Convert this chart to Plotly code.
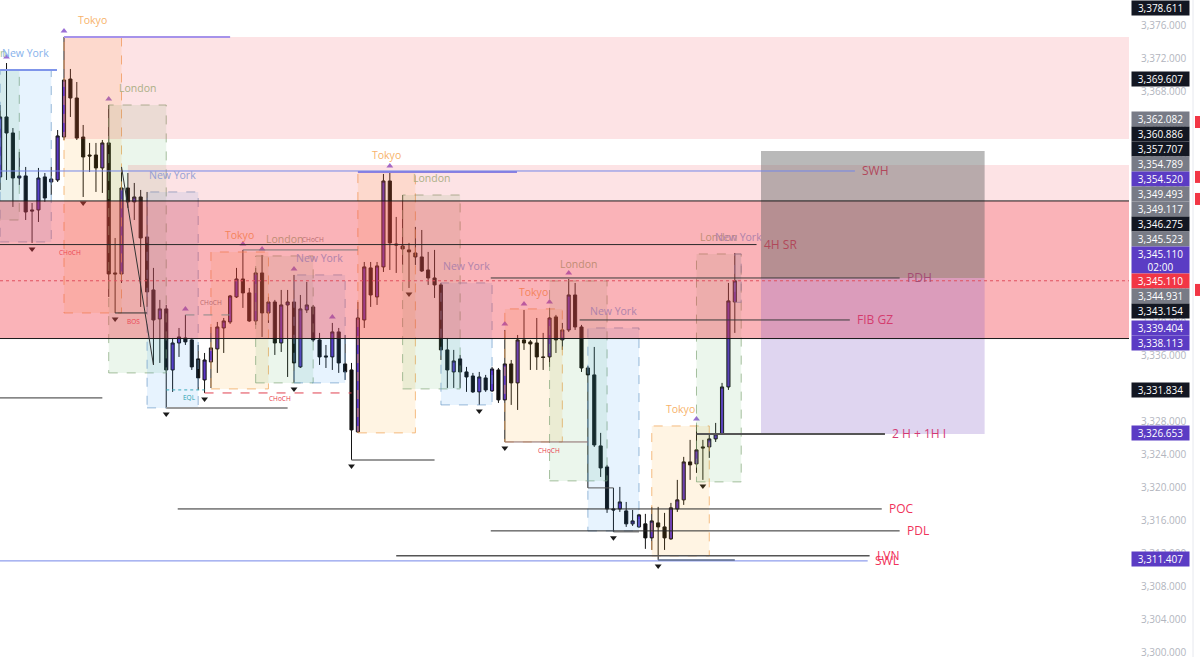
import plotly.graph_objects as go

# 1h candles, bar index 0..115 (last bar is the live one)
opens = [3357.70, 3364.97, 3363.03, 3357.57, 3357.82, 3353.70, 3353.70, 3357.70, 3357.09, 3357.33,
         3362.54, 3369.57, 3367.27, 3362.54, 3360.36, 3360.36, 3358.79, 3361.82, 3346.06, 3345.94,
         3356.36, 3354.67, 3355.27, 3350.42, 3344.00, 3340.48, 3341.70, 3334.30, 3337.57, 3338.18,
         3337.94, 3335.64, 3333.09, 3335.27, 3336.85, 3339.39, 3340.12, 3343.15, 3345.33, 3343.64,
         3340.24, 3346.06, 3341.21, 3342.54, 3337.57, 3342.18, 3342.54, 3334.67, 3341.57, 3341.94,
         3337.94, 3336.00, 3335.88, 3338.91, 3335.03, 3334.30, 3326.79, 3340.36, 3346.67, 3343.15,
         3346.79, 3357.21, 3349.57, 3349.33, 3348.85, 3348.48, 3348.00, 3346.42, 3345.45, 3344.61,
         3336.73, 3334.06, 3335.64, 3334.06, 3333.57, 3331.64, 3333.33, 3331.76, 3334.30, 3330.67,
         3335.03, 3332.73, 3337.94, 3337.70, 3337.57, 3335.88, 3335.88, 3340.73, 3337.94, 3339.15,
         3343.39, 3339.51, 3334.54, 3333.70, 3325.09, 3322.54, 3317.45, 3317.45, 3317.21, 3315.64,
         3315.27, 3315.64, 3313.94, 3315.76, 3315.27, 3313.82, 3317.45, 3318.55, 3323.15, 3322.91,
         3324.97, 3324.97, 3325.94, 3326.55, 3332.24, 3342.54]
highs = [3366.42, 3371.51, 3363.63, 3360.73, 3358.91, 3354.54, 3358.79, 3358.18, 3358.91, 3363.39,
         3374.67, 3370.79, 3369.21, 3364.00, 3361.82, 3361.82, 3362.18, 3366.42, 3350.30, 3358.91,
         3358.18, 3356.97, 3356.12, 3355.88, 3346.67, 3342.79, 3342.18, 3338.18, 3339.39, 3340.97,
         3338.18, 3337.33, 3336.36, 3339.51, 3340.12, 3340.60, 3343.39, 3346.67, 3348.85, 3344.24,
         3346.67, 3348.24, 3343.15, 3342.79, 3344.00, 3344.00, 3345.82, 3343.39, 3344.97, 3342.18,
         3338.79, 3337.33, 3340.00, 3339.39, 3338.54, 3335.15, 3342.54, 3347.39, 3347.39, 3347.39,
         3358.06, 3358.30, 3352.85, 3355.51, 3349.70, 3351.64, 3351.27, 3348.61, 3348.85, 3344.85,
         3338.18, 3336.73, 3336.12, 3334.67, 3333.94, 3334.06, 3333.70, 3334.67, 3334.54, 3339.15,
         3335.51, 3338.54, 3341.57, 3337.94, 3340.60, 3338.79, 3341.82, 3340.97, 3340.00, 3345.33,
         3344.85, 3339.76, 3334.79, 3337.09, 3326.67, 3322.79, 3320.00, 3320.12, 3318.30, 3317.33,
         3316.85, 3316.85, 3317.70, 3317.70, 3316.97, 3318.18, 3320.97, 3323.76, 3325.82, 3327.64,
         3325.82, 3326.42, 3327.88, 3332.73, 3344.85, 3348.48]
lows = [3356.12, 3357.33, 3354.06, 3356.73, 3352.48, 3349.70, 3352.24, 3354.67, 3355.51, 3357.09,
        3362.18, 3364.97, 3362.18, 3355.27, 3358.30, 3355.88, 3355.76, 3343.15, 3341.21, 3344.85,
        3353.94, 3352.48, 3341.94, 3341.94, 3334.91, 3335.15, 3329.70, 3331.64, 3335.88, 3337.33,
        3334.30, 3331.88, 3331.51, 3332.12, 3333.94, 3336.36, 3339.88, 3343.03, 3341.82, 3340.12,
        3339.76, 3338.30, 3340.00, 3336.12, 3336.48, 3333.45, 3332.73, 3334.54, 3341.21, 3337.70,
        3334.91, 3334.54, 3334.30, 3333.94, 3333.09, 3323.39, 3326.67, 3339.39, 3341.94, 3342.18,
        3346.18, 3346.42, 3346.06, 3347.03, 3344.24, 3347.03, 3346.18, 3344.61, 3343.03, 3335.51,
        3332.12, 3332.12, 3332.12, 3331.64, 3331.51, 3330.06, 3331.64, 3331.64, 3330.30, 3325.57,
        3330.06, 3329.45, 3336.73, 3334.30, 3334.30, 3334.30, 3334.67, 3336.36, 3336.73, 3338.91,
        3339.15, 3334.06, 3320.00, 3324.97, 3321.33, 3316.97, 3314.67, 3317.09, 3315.27, 3315.39,
        3315.15, 3312.61, 3312.48, 3311.27, 3312.48, 3313.70, 3317.09, 3317.94, 3320.97, 3321.82,
        3320.97, 3323.64, 3325.57, 3326.42, 3331.88, 3338.79]
closes = [3364.97, 3363.03, 3357.57, 3357.82, 3353.45, 3353.57, 3357.57, 3355.15, 3357.45, 3362.67,
          3369.45, 3367.27, 3362.42, 3360.12, 3360.24, 3358.79, 3361.82, 3345.94, 3345.94, 3356.36,
          3354.67, 3355.27, 3350.30, 3343.76, 3340.36, 3341.70, 3334.30, 3337.57, 3338.30, 3337.70,
          3334.67, 3333.33, 3335.51, 3336.97, 3339.51, 3340.24, 3343.27, 3345.33, 3343.64, 3340.24,
          3346.06, 3341.21, 3342.54, 3337.57, 3342.18, 3342.54, 3335.15, 3341.70, 3342.18, 3337.94,
          3335.88, 3335.88, 3338.91, 3335.15, 3334.06, 3327.03, 3340.60, 3346.79, 3343.39, 3346.91,
          3357.21, 3349.70, 3349.45, 3348.97, 3348.61, 3348.00, 3346.30, 3345.45, 3344.61, 3336.73,
          3334.30, 3335.39, 3334.06, 3333.45, 3331.64, 3333.45, 3331.88, 3334.42, 3330.67, 3335.03,
          3332.73, 3337.94, 3337.57, 3337.45, 3335.88, 3335.82, 3340.60, 3337.94, 3339.15, 3343.39,
          3339.51, 3334.54, 3333.70, 3325.21, 3322.42, 3317.45, 3317.33, 3318.30, 3315.64, 3316.00,
          3316.73, 3313.94, 3316.00, 3315.27, 3313.94, 3317.58, 3318.55, 3323.15, 3322.79, 3324.61,
          3324.85, 3325.94, 3326.55, 3332.24, 3342.67, 3345.11]

# sessions: name, first bar, last bar, session high, session low
session_names = ["London", "New York", "Tokyo", "London", "New York", "Tokyo", "London", "New York",
                 "Tokyo", "London", "New York", "Tokyo", "London", "New York", "Tokyo", "London", "New York"]
session_start = [-7, 0, 10, 17, 23, 33, 40, 46, 56, 63, 69, 79, 86, 92, 102, 109, 115]
session_end = [3, 8, 19, 26, 31, 42, 49, 54, 65, 72, 77, 88, 95, 100, 111, 116, 116]
session_high = [3370.67, 3370.67, 3374.67, 3366.42, 3355.88, 3348.60, 3348.12, 3345.82, 3358.30,
                3355.51, 3344.85, 3341.70, 3345.09, 3339.39, 3327.51, 3348.36, 3348.36]
session_low = [3352.48, 3349.82, 3341.21, 3333.94, 3329.70, 3332.00, 3332.73, 3332.73, 3326.67,
               3332.00, 3330.06, 3325.57, 3320.85, 3314.78, 3311.76, 3320.73, 3342.50]

swing_high_idx = [1, 10, 17, 29, 38, 41, 46, 52, 61, 79, 82, 86, 89, 109]
swing_low_idx = [5, 13, 18, 26, 32, 46, 55, 64, 75, 79, 96, 103, 110]

# key levels: label, price, from bar, to bar
level_names = ["SWH", "4H SR", "PDH", "FIB GZ", "2 H + 1H I", "POC", "PDL", "LVN", "SWL"]
level_prices = [3358.42, 3349.50, 3345.45, 3340.36, 3326.55, 3317.45, 3314.79, 3311.76, 3311.15]
level_start = [-1, -1, 76.8, 90.7, 109, 27.8, 76.8, 62.0, -1]
level_end = [133.8, 118.4, 140.8, 133.0, 138.5, 138.0, 140.8, 136.1, 135.8]

# zones
supply_top = [3374.67, 3362.30]
supply_mid = [3359.15, 3354.79]
supply_main = [3354.79, 3338.11]
proj_gray = [3360.85, 3345.45]
proj_violet = [3345.45, 3326.55]
proj_bars = [119.1, 154.1]
current_price = 3345.11

# structure labels
struct_text = ["CHoCH", "BOS", "CHoCH", "EQL", "CHoCH", "CHoCH", "CHoCH"]
struct_bar = [11, 20.8, 33, 29.7, 43.8, 49, 85.9]
struct_price = [3348.48, 3340.12, 3342.42, 3330.90, 3330.78, 3350.06, 3324.48]
struct_color = [(232, 80, 90), (232, 80, 90), (150, 140, 140), (40, 160, 175), (232, 60, 75), (150, 140, 140), (232, 60, 75)]

# price scale labels
axis_prices = [3378.611, 3369.607, 3362.082, 3360.886, 3357.707, 3354.789, 3354.520, 3349.493, 3349.117,
               3346.275, 3345.523, 3345.110, 3345.110, 3344.931, 3343.154, 3339.404, 3338.113,
               3331.834, 3326.653, 3311.407]
axis_kinds = ["black", "black", "gray", "black", "black", "gray", "purple", "gray", "gray",
              "black", "gray", "purple", "red", "gray", "black", "purple", "purple",
              "black", "purple", "purple"]
axis_sub = ["", "", "", "", "", "", "", "", "", "", "", "02:00", "", "", "", "", "", "", "", ""]

x_min, x_max = -0.02, 176.7
y_min, y_max = 3299.5, 3379.15
fig_w, fig_h = 1200, 657
plot_w = 1129
px_per_unit = fig_h / (y_max - y_min)


def px(i):
    return (i - x_min) / (x_max - x_min)


zones = [
    (10, 999, supply_top[0], supply_top[1], (242, 54, 69), 0.14),
    (20, 999, supply_mid[0], supply_mid[1], (242, 54, 69), 0.14),
    (-99, 999, supply_main[0], supply_main[1], (242, 54, 69), 0.38),
    (proj_bars[0], proj_bars[1], proj_gray[0], proj_gray[1], (100, 100, 100), 0.45),
    (proj_bars[0], proj_bars[1], proj_violet[0], proj_violet[1], (126, 87, 194), 0.25),
]


def tint(rgb, i, p):
    r, g, b = rgb
    for x0, x1, top, bot, zc, a in zones:
        if x0 <= i <= x1 and bot <= p <= top:
            r = r * (1 - a) + zc[0] * a
            g = g * (1 - a) + zc[1] * a
            b = b * (1 - a) + zc[2] * a
    return "rgb(%d,%d,%d)" % (r, g, b)


idx = list(range(len(opens)))
fig = go.Figure()
fig.add_trace(go.Candlestick(
    x=idx, open=opens, high=highs, low=lows, close=closes,
    increasing=dict(fillcolor="#5b35c6", line=dict(color="#141414", width=1)),
    decreasing=dict(fillcolor="#0d0d0d", line=dict(color="#141414", width=1)),
    whiskerwidth=0, showlegend=False, hoverinfo="skip"))

off = 6 / px_per_unit
fig.add_trace(go.Scatter(
    x=swing_high_idx, y=[highs[i] + off for i in swing_high_idx], mode="markers",
    marker=dict(symbol="triangle-up", size=6, color="#9a6fd6"), showlegend=False, hoverinfo="skip"))
fig.add_trace(go.Scatter(
    x=swing_low_idx, y=[lows[i] - off for i in swing_low_idx], mode="markers",
    marker=dict(symbol="triangle-down", size=6, color="#1a1a1a"), showlegend=False, hoverinfo="skip"))

shapes = []
annotations = []

sess_style = {
    "Tokyo": ("rgba(255,152,0,0.11)", "rgba(240,165,90,0.75)", (247, 179, 107)),
    "London": ("rgba(76,175,80,0.11)", "rgba(130,165,120,0.7)", (160, 195, 145)),
    "New York": ("rgba(33,150,243,0.11)", "rgba(110,155,200,0.7)", (135, 178, 235)),
}
for k, name in enumerate(session_names):
    fill, border, lab = sess_style[name]
    shapes.append(dict(type="rect", xref="x", yref="y", layer="above",
                       x0=session_start[k], x1=session_end[k], y0=session_low[k], y1=session_high[k],
                       fillcolor=fill, line=dict(color=border, width=1, dash="dash")))
    cx = (session_start[k] + session_end[k]) / 2
    ly = session_high[k] + 17 / px_per_unit
    annotations.append(dict(xref="paper", yref="y", x=px(cx), y=ly, text=name, showarrow=False,
                            xanchor="center", yanchor="middle",
                            font=dict(family="Open Sans", size=10.5, color=tint(lab, cx, ly))))

for x0, x1, top, bot, zc, a in zones:
    shapes.append(dict(type="rect", xref="x", yref="y", layer="above", x0=x0, x1=x1, y0=bot, y1=top,
                       fillcolor="rgba(%d,%d,%d,%.2f)" % (zc + (a,)), line=dict(width=0)))

# full-width lines
for p in [supply_main[0], supply_main[1]]:
    shapes.append(dict(type="line", xref="paper", yref="y", layer="above", x0=0, x1=1, y0=p, y1=p,
                       line=dict(color="#1a1a1a", width=1)))
shapes.append(dict(type="line", xref="paper", yref="y", layer="above", x0=0, x1=1,
                   y0=current_price, y1=current_price, line=dict(color="#e0505e", width=1, dash="dot")))

# session-high rays
ray_start = [0, 10, 56]
ray_end = [8.9, 36, 80.9]
ray_price = [3370.67, 3374.67, 3358.30]
ray_color = ["#7f95ea", "#a692ea", "#8c7fe0"]
for k in range(len(ray_start)):
    shapes.append(dict(type="line", xref="x", yref="y", layer="above", x0=ray_start[k], x1=ray_end[k],
                       y0=ray_price[k], y1=ray_price[k], line=dict(color=ray_color[k], width=2)))

# key level lines with labels
level_color = ["#7386e8", "#2a2a2a", "#3a3a3a", "#3a3a3a", "#555555", "#2a2a2a", "#2a2a2a", "#555555", "#7386e8"]
level_width = [1, 1, 1, 1, 2, 1, 1, 1.5, 1]
for k, name in enumerate(level_names):
    p = level_prices[k]
    shapes.append(dict(type="line", xref="x", yref="y", layer="above", x0=level_start[k], x1=level_end[k],
                       y0=p, y1=p, line=dict(color=level_color[k], width=level_width[k])))
    tx = level_end[k] + 1
    annotations.append(dict(xref="paper", yref="y", x=px(level_end[k]), y=p, xshift=5, text=name,
                            showarrow=False, xanchor="left", yanchor="middle",
                            font=dict(family="Open Sans", size=12, color=tint((240, 50, 90), tx + 3, p))))

# structure lines
st_x0 = [18, 29, 32, 26, 38, 55, -1, 79, 92, 96, 103, 26]
st_x1 = [23, 36, 55, 45, 56, 68, 16, 92, 96, 100, 115, 32]
st_p = [3341.21, 3340.97, 3331.51, 3329.70, 3348.85, 3323.39, 3330.91, 3325.57, 3320.00, 3314.67, 3311.27, 3331.88]
st_col = ["#333333", "#8a8a8a", "#e04050", "#9a9a9a", "#777777", "#777777", "#333333", "#8a6a6a",
          "#555555", "#555555", "#5a6a8a", "#3aaabb"]
st_w = [1, 1, 1, 2, 1, 1.5, 1, 1, 1, 1, 1.5, 1]
st_dash = ["solid", "dash", "dash", "solid", "solid", "solid", "solid", "solid", "solid", "solid", "solid", "dot"]
for k in range(len(st_x0)):
    shapes.append(dict(type="line", xref="x", yref="y", layer="above", x0=st_x0[k], x1=st_x1[k],
                       y0=st_p[k], y1=st_p[k], line=dict(color=st_col[k], width=st_w[k], dash=st_dash[k])))
# zigzag leg
shapes.append(dict(type="line", xref="x", yref="y", layer="above", x0=19, x1=24,
                   y0=highs[19], y1=lows[24], line=dict(color="#333333", width=1)))

for k, t in enumerate(struct_text):
    annotations.append(dict(xref="paper", yref="y", x=px(struct_bar[k]), y=struct_price[k], text=t,
                            showarrow=False, xanchor="center", yanchor="middle",
                            font=dict(family="Open Sans", size=6.5,
                                      color=tint(struct_color[k], struct_bar[k], struct_price[k]))))

# price scale labels, stacked around the live price label
kind_bg = {"black": "#131722", "gray": "#787b86", "purple": "#5b3cc4", "red": "#f23645"}
order = sorted(range(len(axis_prices)), key=lambda k: -axis_prices[k])
heights = [27 if axis_sub[k] else 15 for k in order]
pos = [axis_prices[k] for k in order]
anchor = [axis_kinds[k] for k in order].index("red")
for j in range(anchor - 1, -1, -1):
    gap = (heights[j] + heights[j + 1]) / 2 / px_per_unit
    pos[j] = max(pos[j], pos[j + 1] + gap)
for j in range(anchor + 1, len(pos)):
    gap = (heights[j] + heights[j - 1]) / 2 / px_per_unit
    pos[j] = min(pos[j], pos[j - 1] - gap)
for j, k in enumerate(order):
    top_lim = y_max - (heights[j] / 2) / px_per_unit
    yy = min(pos[j], top_lim)
    txt = "{:,.3f}".format(axis_prices[k])
    if axis_sub[k]:
        txt += "<br>" + axis_sub[k]
    annotations.append(dict(xref="paper", yref="y", x=1131 / plot_w, y=yy, text=txt, showarrow=False,
                            xanchor="left", yanchor="middle", align="center",
                            width=55, height=heights[j] - 3, borderpad=1, bgcolor=kind_bg[axis_kinds[k]],
                            font=dict(family="Open Sans", size=10, color="#ffffff")))

# scale edge and alert marks
shapes.append(dict(type="line", xref="paper", yref="paper", x0=1193 / plot_w, x1=1193 / plot_w, y0=0, y1=1,
                   line=dict(color="#e6e8ee", width=1)))
alert_prices = [3364.36, 3357.70, 3355.03, 3344.00]
for p in alert_prices:
    shapes.append(dict(type="rect", xref="paper", yref="y", x0=1195 / plot_w, x1=1200 / plot_w,
                       y0=p - 6 / px_per_unit, y1=p + 6 / px_per_unit, fillcolor="#f23645", line=dict(width=0)))

fig.update_layout(
    width=fig_w, height=fig_h,
    margin=dict(l=0, r=fig_w - plot_w, t=0, b=0, pad=0),
    paper_bgcolor="#ffffff", plot_bgcolor="#ffffff",
    shapes=shapes, annotations=annotations,
    font=dict(family="Open Sans"),
    xaxis=dict(range=[x_min, x_max], visible=False, rangeslider=dict(visible=False), fixedrange=True),
    yaxis=dict(range=[y_min, y_max], side="right", showgrid=False, zeroline=False, showline=False,
               ticks="", tickformat=",.3f", tick0=3300, dtick=4, automargin=False,
               ticklabelstandoff=11, ticklabeloverflow="allow",
               tickfont=dict(family="Open Sans", size=10, color="#b2b5be"),
               fixedrange=True),
    hovermode=False,
)

fig.write_html("out.html", config={"displayModeBar": False},
               post_script="document.body.style.margin='0';document.body.style.overflow='hidden';")
